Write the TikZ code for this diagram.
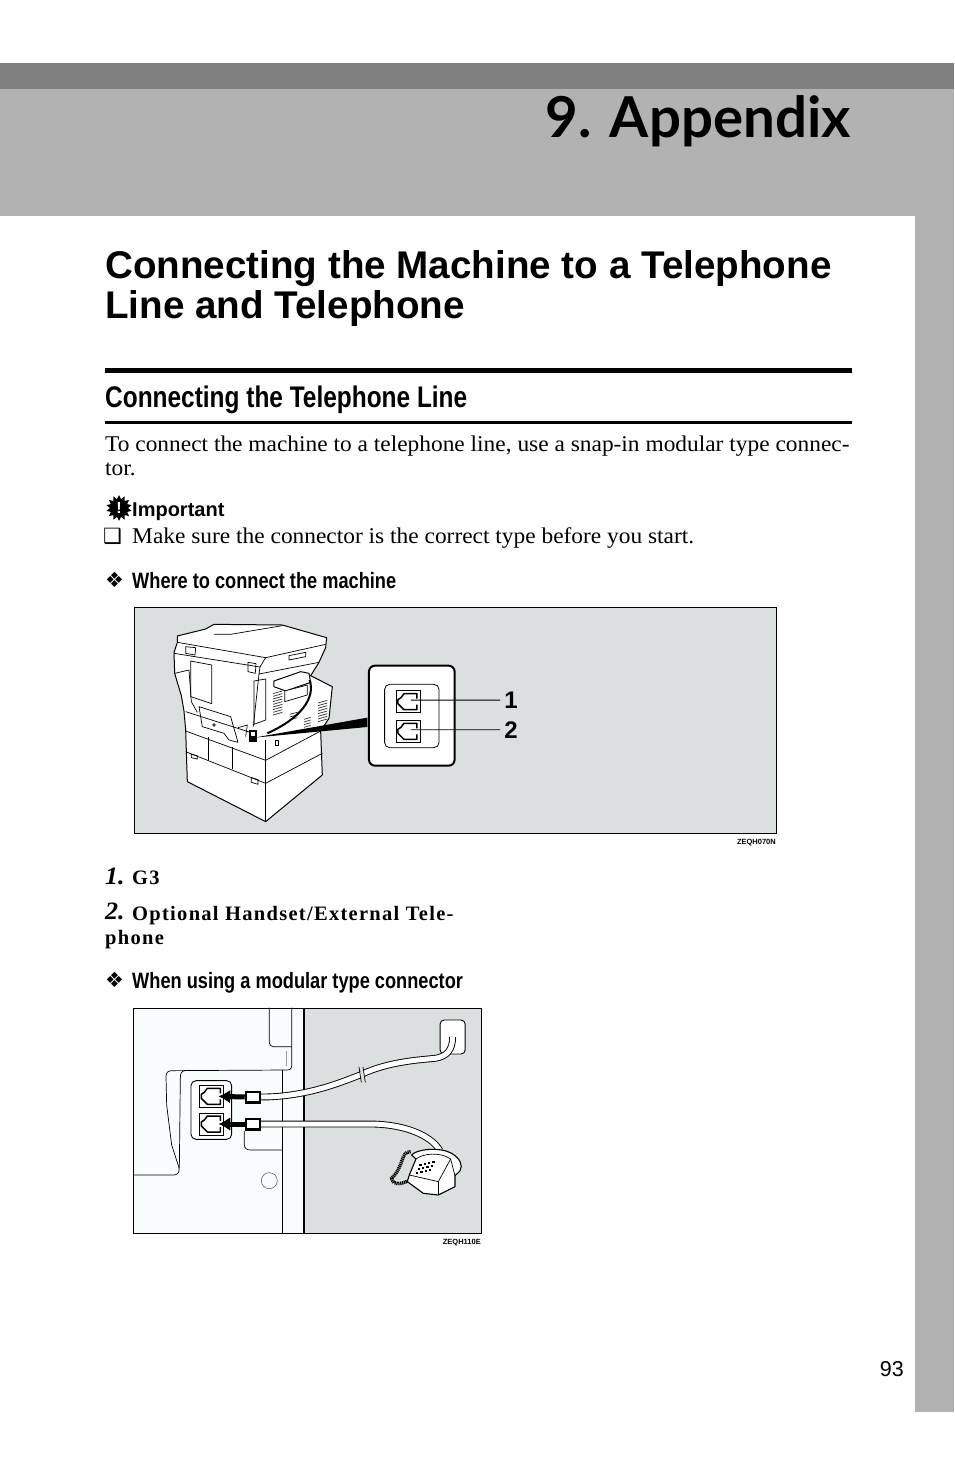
\documentclass[tikz,border=0pt]{standalone}
\usepackage{fontspec}
\usetikzlibrary{arrows.meta,shapes.geometric,calc}
\setmainfont{Liberation Serif}[FakeStretch=1.04]
\setsansfont{Liberation Sans}
\newfontfamily\titlefont{Lato}[BoldFont={Lato Bold}]
\newfontfamily\narrowfont{Liberation Sans}[FakeStretch=0.82]
\newfontfamily\stepfont{Liberation Serif}[LetterSpace=6.3]
\newfontfamily\symfont{DejaVu Sans}

\definecolor{bandgrey}{HTML}{B2B2B2}
\definecolor{stripgrey}{HTML}{808080}
\definecolor{figgrey}{HTML}{DCDFDF}
\definecolor{figwhite}{HTML}{F8FCFC}

\tikzstyle{txt}=[inner sep=0pt,anchor=base west]
\tikzstyle{body}=[txt,font=\fontsize{22.5}{24}\selectfont]
\tikzstyle{subhead}=[txt,font=\narrowfont\bfseries\fontsize{22.2}{26}\selectfont]
\tikzstyle{stepnum}=[txt,font=\bfseries\itshape\fontsize{25}{26}\selectfont]
\tikzstyle{steptxt}=[txt,font=\stepfont\bfseries\fontsize{20.5}{24}\selectfont]
\tikzstyle{symb}=[txt,font=\symfont\fontsize{21}{24}\selectfont]
\tikzstyle{tag}=[inner sep=0pt,anchor=base east,font=\sffamily\bfseries\fontsize{7.5}{8}\selectfont]
\tikzstyle{jack}=[draw=black,fill=white,line width=0.7pt,inner sep=0pt,minimum width=24pt,minimum height=22pt]
\tikzstyle{plug}=[draw=black,fill=white,line width=2.5pt,inner sep=0pt,minimum width=14pt,minimum height=10.5pt]
\tikzstyle{cable}=[draw=black,line width=0.9pt,double=white,double distance=5pt]
\tikzstyle{plugarrow}=[black,line width=5pt,-{Latex[length=12pt,width=14pt]}]
\tikzstyle{leader}=[draw=black,line width=0.9pt]
\tikzstyle{thin}=[draw=black,line width=0.7pt,line join=round]

% socket outline inside a jack node
\newcommand{\jackglyph}[1]{
  \draw[black,line width=1.5pt,line join=round] ($(#1)+(9,-3)$) -- ($(#1)+(9,-8)$) -- ($(#1)+(-4,-8)$)
    -- ($(#1)+(-7,-4)$) -- ($(#1)+(-10,-2)$) -- ($(#1)+(-10,2)$) -- ($(#1)+(-7,5)$)
    -- ($(#1)+(-4,8)$) -- ($(#1)+(9,8)$) -- ($(#1)+(9,3)$);
}

\begin{document}
\begin{tikzpicture}[x=1pt,y=-1pt,>=latex]
  \useasboundingbox (0,0) rectangle (954,1475);
  \fill[white] (0,0) rectangle (954,1475);

  % The page furniture:
  \fill[bandgrey] (0,63) rectangle (954,216);
  \fill[stripgrey] (0,63) rectangle (954,89);
  \fill[bandgrey] (915,216) rectangle (954,1412);
  \fill[black] (105,368) rectangle (852,373);
  \fill[black] (105,421) rectangle (852,423.5);

  % The text:
  \node (chapter) [inner sep=0pt,anchor=base east,font=\titlefont\bfseries\fontsize{56.4}{58}\selectfont] at (851,137) {9. Appendix};
  \node (head1) [txt,font=\sffamily\bfseries\fontsize{38.6}{40}\selectfont] at (105,278) {Connecting the Machine to a Telephone};
  \node (head2) [txt,font=\sffamily\bfseries\fontsize{38.6}{40}\selectfont] at (105,318) {Line and Telephone};
  \node (head3) [txt,font=\narrowfont\bfseries\fontsize{29.8}{32}\selectfont] at (105,407) {Connecting the Telephone Line};
  \node (intro1) [body] at (105,451) {To connect the machine to a telephone line, use a snap-in modular type connec-};
  \node (intro2) [body] at (105,475) {tor.};
  \node (burst) [star,star points=14,star point ratio=1.45,fill=black,inner sep=0pt,minimum size=26pt] at (119,508) {};
  \node (bang) [inner sep=0pt,text=white,font=\sffamily\bfseries\fontsize{16}{16}\selectfont] at (119,508) {!};
  \node (important) [txt,font=\sffamily\bfseries\fontsize{20}{22}\selectfont] at (132,516) {Important};
  \node (box) [symb] at (103,543) {❑};
  \node (sure) [body] at (132,543) {Make sure the connector is the correct type before you start.};
  \node (dia1) [symb] at (105,587) {❖};
  \node (where) [subhead] at (132,588) {Where to connect the machine};
  \node (num1) [stepnum] at (105,884) {1.};
  \node (g3) [steptxt] at (132,884) {G3};
  \node (num2) [stepnum] at (105,919) {2.};
  \node (opt1) [steptxt] at (132,920) {Optional Handset/External Tele-};
  \node (opt2) [steptxt] at (105,944) {phone};
  \node (dia2) [symb] at (105,987) {❖};
  \node (when) [subhead] at (132,988) {When using a modular type connector};
  \node (tag1) [tag] at (776,844) {ZEQH070N};
  \node (tag2) [tag] at (481,1244) {ZEQH110E};
  \node (page) [inner sep=0pt,anchor=base east,font=\sffamily\fontsize{21.5}{24}\selectfont] at (904,1376) {93};

  % First figure, the machine from behind:
  \draw[black,line width=1pt,fill=figgrey] (134.5,607.5) rectangle (776,833.5);
  \begin{scope}[shift={(134,605)},x=0.3333pt,y=-0.3333pt]
    \draw[thin,fill=white,line width=1pt] (130,93) -- (215,72) -- (240,58) -- (445,60) -- (578,98) -- (575,128) -- (555,172)
      -- (530,212) -- (595,245) -- (585,340) -- (560,378) -- (565,510) -- (395,650) -- (160,530) -- (155,375)
      -- (150,318) -- (142,272) -- (122,205) -- (120,142) -- (130,113) -- cycle;
    % scanner and document feeder
    \draw[thin] (130,112) -- (395,158) -- (575,118);
    \draw[thin] (240,88) -- (290,88) -- (445,62);
    \draw[thin] (120,145) -- (378,186) -- (395,158);
    \draw[thin] (378,186) -- (375,207) -- (555,172);
    \draw[thin] (155,125) -- (185,128) -- (183,150) -- (155,145) -- cycle;
    \draw[thin] (342,172) -- (366,176) -- (364,205) -- (342,200) -- cycle;
    \draw[thin] (465,152) -- (515,142) -- (515,155) -- (465,165) -- cycle;
    % rear panels
    \draw[thin] (170,168) -- (233,180) -- (233,296) -- (170,275) -- cycle;
    \draw[thin] (122,205) -- (165,195) -- (172,290) -- (190,322);
    \draw[thin] (375,207) -- (358,365);
    \draw[thin] (360,228) -- (395,222) -- (395,345) -- (360,358) -- cycle;
    \draw[thin] (195,305) -- (290,335) -- (312,412) -- (285,405) -- (270,385) -- (205,365) -- cycle;
    \draw[thin] (240,360) circle (4);
    \draw[thin] (155,320) -- (358,385);
    \draw[thin] (312,368) -- (340,360) -- (335,395);
    % vents
    \foreach \y in {262,270,...,326} \draw[black!80,line width=0.7pt] (417,\y+4) -- (445,\y-4);
    \foreach \y in {290,298,...,346} \draw[black!80,line width=0.7pt] (552,\y+4) -- (580,\y-4);
    \foreach \y in {340,348,...,364} \draw[black!80,line width=0.7pt] (510,\y+3) -- (530,\y-3);
    \foreach \y in {325,333,341} \draw[black!80,line width=0.7pt] (467,\y+3) -- (490,\y-3);
    % paper trays
    \draw[thin] (155,378) -- (395,466) -- (560,378);
    \draw[thin] (155,440) -- (395,535) -- (565,445);
    \draw[thin] (395,405) -- (395,650);
    \draw[thin] (222,395) -- (222,465);
    \draw[thin] (296,425) -- (296,492);
    \draw[thin] (172,448) -- (190,452) -- (190,462) -- (172,458) -- cycle;
    \draw[thin] (352,518) -- (372,524) -- (372,538) -- (352,532) -- cycle;
    \draw[thin] (425,405) rectangle (432,420);
    % handset and its cord
    \draw[thin,fill=white,line width=1pt] (420,228) -- (500,200) -- (525,205) -- (530,232) -- (455,258) -- (420,245) -- cycle;
    \draw[thin,fill=white] (452,258) -- (520,240) -- (520,270) -- (452,290) -- cycle;
    \draw[black,line width=2pt] (527,225) .. controls (545,280) and (500,340) .. (400,385);
    % socket and the wedge towards the blow-up
    \fill[black] (345,375) rectangle (368,412);
    \fill[white] (352,382) rectangle (362,392);
    \coordinate (socket) at (360,398);
    \fill[black] (socket) -- (700,338) -- (700,366) -- cycle;
    % blow-up of the sockets
    \draw[black,line width=2pt,rounded corners=6pt,fill=white] (705,182) rectangle (962,482);
    \draw[black,line width=0.8pt,rounded corners=5pt] (752,238) rectangle (915,428);
    \node (J1) [jack] at (822,290) {};
    \node (J2) [jack] at (822,379) {};
    \node (L1) [inner sep=0pt,font=\sffamily\bfseries\fontsize{24}{24}\selectfont] at (1131,285.2) {1};
    \node (L2) [inner sep=0pt,font=\sffamily\bfseries\fontsize{24}{24}\selectfont] at (1131,374.2) {2};
  \end{scope}
  \jackglyph{J1}
  \jackglyph{J2}
  \path[leader]
    ($(J1)+(3,-1.6)$) edge ($(L1.west)+(-4,0)$)
    ($(J2)+(3,-1.6)$) edge ($(L2.west)+(-4,0)$);

  % Second figure, the two cables:
  \fill[figwhite] (133,1008) rectangle (481,1233);
  \begin{scope}[shift={(130,1005)},x=0.3333pt,y=-0.3333pt]
    \fill[figgrey] (522,8) rectangle (1052,685);
    \draw[thin] (418,8) -- (418,112) .. controls (418,120) and (422,125) .. (430,125) -- (485,125);
    \draw[thin] (485,8) -- (485,182) .. controls (485,192) and (480,195) .. (470,195) -- (125,197)
      .. controls (112,197) and (108,205) .. (108,215) -- (110,300) -- (125,420) -- (147,488)
      .. controls (150,505) and (140,510) .. (130,510) -- (10,510);
    \draw[thin] (165,197) .. controls (155,197) and (151,205) .. (151,220) -- (148,490);
    \draw[thin] (457,195) -- (457,685);
    \draw[black!40,line width=0.6pt] (470,138) -- (470,182);
    \draw[thin] (343,378) -- (343,418) .. controls (343,430) and (350,435) .. (362,435) -- (457,435);
    \draw[black!70,line width=0.5pt] (418,527) circle (24);
    \draw[black,line width=2.4pt] (522,8) -- (522,685);
    \draw[black,line width=0.9pt,rounded corners=5pt,fill=white] (183,227) rectangle (305,403);
    \node (S1) [jack] at (244,274) {};
    \node (S2) [jack] at (244,357) {};
    \node (P1) [plug] at (369,276) {};
    \node (P2) [plug] at (369,357) {};
    \node (wall) [draw=black,fill=white,line width=0.9pt,rounded corners=4pt,minimum width=25pt,minimum height=34pt,inner sep=0pt] at (968,96) {};
    \coordinate (set) at (930,437);
    \path[cable] (P1.east) .. controls (520,276) and (620,238) .. (695,208)
      .. controls (770,172) and (860,165) .. (915,160) .. controls (950,155) and (968,135) .. (wall.center);
    \path[cable] (P2.east) -- (720,357) .. controls (810,357) and (900,385) .. (set);
    % break mark on the wall cable
    \fill[figgrey] (689,186) -- (699,186) -- (706,232) -- (696,232) -- cycle;
    \draw[thin] (687,186) -- (694,232) (699,186) -- (706,232);
    % telephone
    \draw[black,line width=3.4pt,dash pattern=on 1.2pt off 0.7pt] (842,440) .. controls (810,440) and (825,480) .. (785,520) .. controls (790,545) and (815,535) .. (835,528);
    \draw[thin,fill=white,line width=1.1pt] (845,450) .. controls (860,432) and (930,425) .. (965,445) .. controls (990,460) and (1000,480) .. (990,498)
      -- (975,512) -- (975,545) -- (925,570) -- (880,565) -- (832,530) -- (838,510) -- (858,462) -- cycle;
    \draw[thin] (858,462) .. controls (880,445) and (930,440) .. (962,462) -- (975,512);
    \draw[thin] (962,462) -- (925,530) -- (838,510);
    \draw[thin] (925,530) -- (925,570);
    \foreach \i in {0,1,2,3} \foreach \j in {0,1,2}
      \fill[black] ({868+\i*13+\j*-5},{478+\i*-3+\j*12}) rectangle +(7,6);
  \end{scope}
  \jackglyph{S1}
  \jackglyph{S2}
  \draw[plugarrow] (P1.west) -- ($(S1)+(7,0)$);
  \draw[plugarrow] (P2.west) -- ($(S2)+(7,0)$);
  \draw[black,line width=1pt] (133,1008) rectangle (481,1233);
\end{tikzpicture}
\end{document}
